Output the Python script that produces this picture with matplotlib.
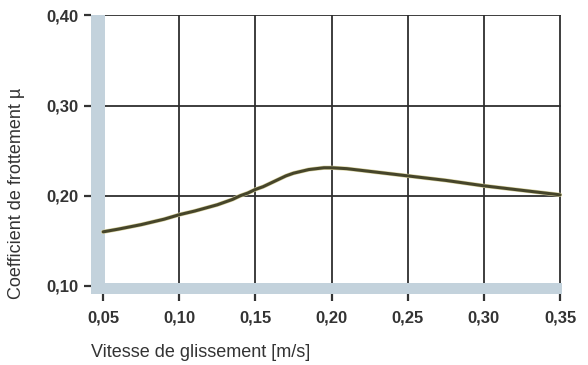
import matplotlib
matplotlib.use("Agg")
import matplotlib.pyplot as plt
from matplotlib.ticker import FuncFormatter

# data
vitesse = [0.05, 0.06, 0.075, 0.09, 0.10, 0.11, 0.125, 0.135, 0.14, 0.145, 0.15,
           0.155, 0.16, 0.165, 0.17, 0.175, 0.18, 0.185, 0.19, 0.195, 0.20,
           0.21, 0.225, 0.25, 0.275, 0.30, 0.325, 0.35]
mu = [0.160, 0.163, 0.168, 0.174, 0.179, 0.183, 0.190, 0.196, 0.200, 0.203, 0.207,
      0.210, 0.214, 0.218, 0.222, 0.225, 0.227, 0.229, 0.230, 0.231, 0.231,
      0.230, 0.227, 0.222, 0.217, 0.211, 0.206, 0.201]

xticks = [0.05, 0.10, 0.15, 0.20, 0.25, 0.30, 0.35]
yticks = [0.10, 0.20, 0.30, 0.40]

plt.rcParams['font.family'] = ['Liberation Sans', 'DejaVu Sans']

fig = plt.figure(figsize=(5.88, 3.65), dpi=100)
# axes box in pixels: x 91..562, y 15..294
ax = fig.add_axes([91/588, (365-294)/365, (562-91)/588, (294-15)/365])

ax.set_xlim(0.042, 0.3513)
ax.set_ylim(0.0911, 0.4003)

grid_c = '#2e2e2e'
for x in xticks[1:]:
    ax.plot([x, x], [0.10, 0.40], color=grid_c, lw=1.3, zorder=1)
for y in yticks[1:]:
    ax.plot([0.05, 0.35], [y, y], color=grid_c, lw=1.3, zorder=1)

# light blue bars acting as axes
bar_c = '#c3d2dc'
ax.axvspan(0.042, 0.0512, ymin=0, ymax=1, color=bar_c, lw=0, zorder=3)
ax.axhspan(0.0911, 0.1035, xmin=0, xmax=1, color=bar_c, lw=0, zorder=3)

ax.plot(vitesse, mu, color='#d9d3a0', lw=3.0, solid_capstyle='round', zorder=4)
ax.plot(vitesse, mu, color='#46452a', lw=2.2, solid_capstyle='round', zorder=5)

for s in ax.spines.values():
    s.set_visible(False)

ax.set_xticks(xticks)
ax.set_yticks(yticks)
fmt = FuncFormatter(lambda v, p: ('%.2f' % v).replace('.', ','))
ax.xaxis.set_major_formatter(fmt)
ax.yaxis.set_major_formatter(fmt)
ax.tick_params(axis='x', direction='out', length=5, width=1.6, color='#333333',
               pad=7, labelsize=12, labelcolor='#333333')
ax.tick_params(axis='y', direction='out', length=5, width=1.6, color='#333333',
               pad=4, labelsize=12, labelcolor='#333333')
for lab in ax.get_xticklabels() + ax.get_yticklabels():
    lab.set_fontweight('bold')

ax.set_xlabel('Vitesse de glissement [m/s]', fontsize=13, color='#333333',
              ha='left', va='center')
ax.set_ylabel('Coefficient de frottement µ', fontsize=13, color='#333333',
              ha='center', va='center')
ax.xaxis.set_label_coords(0.0, -0.208)
ax.yaxis.set_label_coords(-0.158, 0.36)

fig.savefig('out.png', dpi=100)
